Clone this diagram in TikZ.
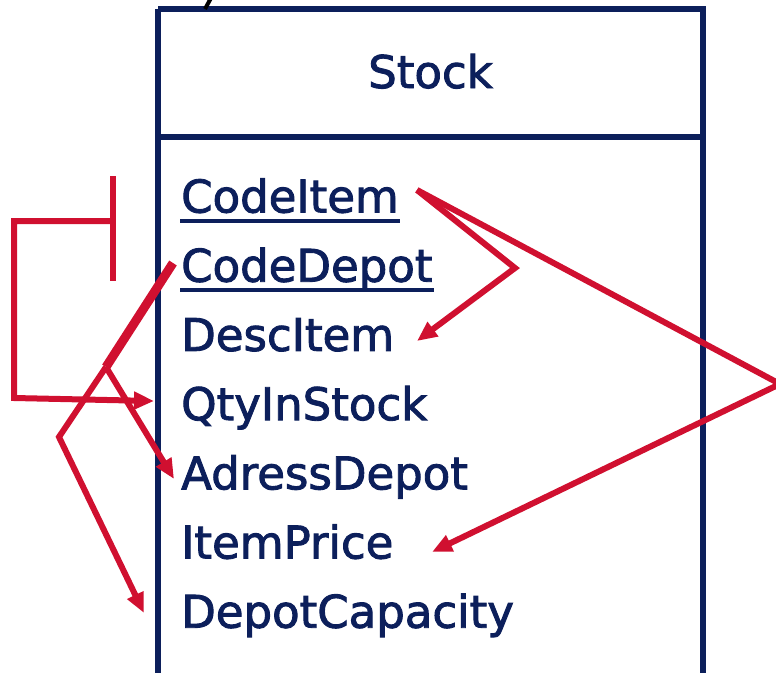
\documentclass[tikz,border=0pt]{standalone}
\usepackage{fontspec}
\setmainfont{DejaVu Sans}
\newfontfamily\attrfont[FakeBold=2]{DejaVu Sans}
\usetikzlibrary{arrows.meta,calc}
\definecolor{navy}{RGB}{12,31,91}
\definecolor{crimson}{RGB}{208,16,48}
\begin{document}
\begin{tikzpicture}[x=1pt,y=-1pt,
  attr/.style={font=\attrfont\fontsize{45}{50}\selectfont, text=navy, inner sep=0pt, anchor=base west},
  title/.style={font=\attrfont\fontsize{45}{50}\selectfont, text=navy, inner sep=0pt, anchor=base},
  frame/.style={draw=navy, line width=6pt},
  uline/.style={draw=navy, line width=3.5pt},
  redline/.style={draw=crimson, line width=6pt},
  thickred/.style={draw=crimson, line width=9pt},
  arr/.style={-{Triangle[length=20pt,width=17pt]}}]
\useasboundingbox (0,0) rectangle (776,672);
\clip (0,0) rectangle (776,672);

% class box (runs past the lower edge)
\draw[frame] (158,9) -- (703,9) -- (703,690);
\draw[frame] (158,9) -- (158,690);
\draw[frame] (158,137) -- (703,137);
% stray stroke of a glyph above the box
\draw[line width=4pt, black] (211,-2) -- (205,9);

\node[title] (stock) at (430.5,88) {Stock};

\node[attr] (ci)  at (181,212.5) {CodeItem};
\node[attr] (cd)  at (181,281.7) {CodeDepot};
\node[attr] (di)  at (181,350.9) {DescItem};
\node[attr] (qty) at (181,420.1) {QtyInStock};
\node[attr] (adr) at (181,489.3) {AdressDepot};
\node[attr] (ip)  at (181,558.5) {ItemPrice};
\node[attr] (cap) at (181,627.7) {DepotCapacity};

% key attributes underlined
\draw[uline] ($(ci.base west)+(-1,8.5)$) -- ($(ci.base east)+(1,8.5)$);
\draw[uline] ($(cd.base west)+(-1,8.5)$) -- ($(cd.base east)+(1,8.5)$);

% dependencies of CodeItem
\coordinate (ciTail) at (417,190);
\coordinate (kneeA)  at (515,268);
\coordinate (kneeB)  at (780,384);
\coordinate (diTip)  at (417,341);
\coordinate (ipTip)  at (432,552);
\draw[redline, arr] (ciTail) -- (kneeA) -- (diTip);
\draw[redline, arr] (ciTail) -- (kneeB) -- (ipTip);

% dependency of the full key
\coordinate (tTop)   at (113,176);
\coordinate (tMid)   at (113,221);
\coordinate (tBot)   at (113,281);
\coordinate (bTL)    at (14,221);
\coordinate (bBL)    at (14,398);
\coordinate (qtyTip) at (154,401);
\draw[redline] (tTop) -- (tBot);
\draw[redline, arr] (tMid) -- (bTL) -- (bBL) -- (qtyTip);

% dependencies of CodeDepot
\coordinate (cdTail) at (173,263);
\coordinate (fork)   at (106,367);
\coordinate (kneeL)  at (59,437);
\coordinate (adrTip) at (174,479);
\coordinate (capTip) at (144,613);
\draw[thickred] (cdTail) -- (fork);
\draw[redline, arr] (fork) -- (kneeL) -- (capTip);
\draw[redline, arr] (fork) -- (adrTip);
\end{tikzpicture}
\end{document}
